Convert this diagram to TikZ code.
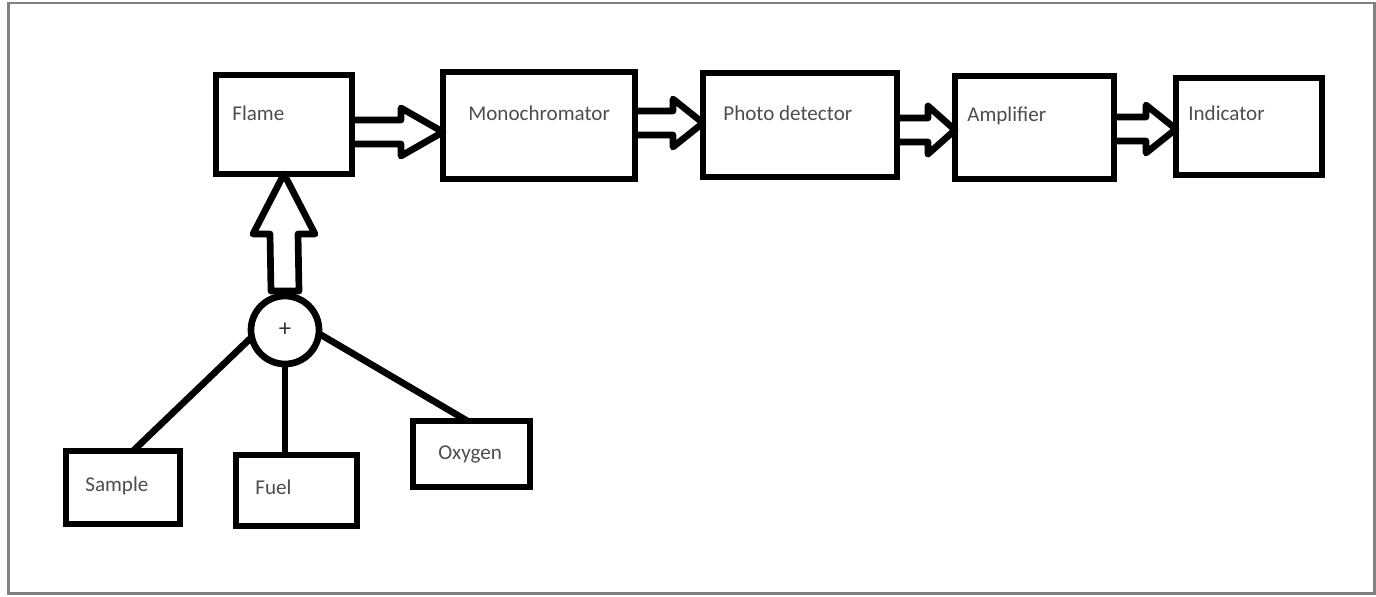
\documentclass[tikz,border=0pt]{standalone}
\usepackage{fontspec}
\setmainfont{Carlito}
\usetikzlibrary{calc}
\definecolor{textgrey}{HTML}{4D4D4D}
\definecolor{framegrey}{HTML}{808080}

% hollow block arrow: start anchor, tip coordinate, head length (px)
\newcommand{\fatarrow}[3]{%
  \draw[hollow] ($(#1 |- #2)+(0,-12)$) -- ($(#2)+(-#3,-12)$) -- ($(#2)+(-#3,-24)$)
    -- (#2) -- ($(#2)+(-#3,24)$) -- ($(#2)+(-#3,12)$) -- ($(#1 |- #2)+(0,12)$);}

\begin{document}
\begin{tikzpicture}[x=0.02cm, y=-0.02cm]
  % Styles
  \tikzset{
    box/.style 2 args={draw, line width=3.8pt, inner sep=0pt, outer sep=0pt,
      minimum width=#1*0.02cm, minimum height=#2*0.02cm},
    lbl/.style={anchor=base west, inner sep=0pt, text=textgrey, font=\fontsize{12}{14}\selectfont},
    sumnode/.style={draw, circle, line width=3.8pt, inner sep=0pt, outer sep=0pt,
      minimum size=68*0.02cm, font=\fontsize{14}{14}\selectfont, text=black!80},
    hollow/.style={draw, line width=3.8pt, line join=round},
    link/.style={draw, line width=3.8pt},
  }
  \useasboundingbox (0,0) rectangle (1376,596);
  \draw[framegrey, line width=1.7pt] (8.5,3) rectangle (1374.5,593.5);

  % Main chain
  \node[box={136}{99}]  (flame) at (284,124.5) {};
  \node[box={192}{107}] (mono)  at (539,125.5) {};
  \node[box={194}{104}] (photo) at (800,125)   {};
  \node[box={159}{103}] (amp)   at (1034.5,127.5) {};
  \node[box={146}{97}]  (ind)   at (1249,126.5) {};

  \node[lbl] (flametxt) at (232,120)  {Flame};
  \node[lbl] (monotxt)  at (468,120)  {Monochromator};
  \node[lbl] (phototxt) at (723,120)  {Photo detector};
  \node[lbl] (amptxt)   at (967,121)  {Amplifier};
  \node[lbl] (indtxt)   at (1188,120) {Indicator};

  % Inputs
  \node[sumnode] (sum) at (285,330) {+};
  \node[box={114}{73}] (sample) at (123,487.5) {};
  \node[box={121}{71}] (fuel)   at (296.5,490.5) {};
  \node[box={117}{66}] (oxygen) at (471.5,454) {};

  \node[lbl] (sampletxt) at (85,491)  {Sample};
  \node[lbl] (fueltxt)   at (255,494) {Fuel};
  \node[lbl] (oxygentxt) at (438,459) {Oxygen};

  % Links
  \draw[link] (sum.192) -- ($(sample.north)+(10,0)$);
  \draw[link] (sum.south) -- (sum.south |- fuel.north);
  \draw[link] (sum.-6) -- ($(oxygen.north)+(-4,0)$);

  % Block arrows
  \coordinate (tipA) at ([shift={(0,6.5)}]mono.west);
  \coordinate (tipB) at ([shift={(0,-2)}]photo.west);
  \coordinate (tipC) at ([shift={(0,2.5)}]amp.west);
  \coordinate (tipD) at ([shift={(0,2.5)}]ind.west);
  \fatarrow{flame.east}{tipA}{42}
  \fatarrow{mono.east}{tipB}{30}
  \fatarrow{photo.east}{tipC}{27}
  \fatarrow{amp.east}{tipD}{30}

  \draw[hollow] ($(sum.north)+(-14,-5)$) -- ($(flame.south)+(-14,60)$) -- ($(flame.south)+(-31,60)$)
    -- (flame.south) -- ($(flame.south)+(31,60)$) -- ($(flame.south)+(14,60)$)
    -- ($(sum.north)+(14,-5)$) -- cycle;
\end{tikzpicture}
\end{document}
